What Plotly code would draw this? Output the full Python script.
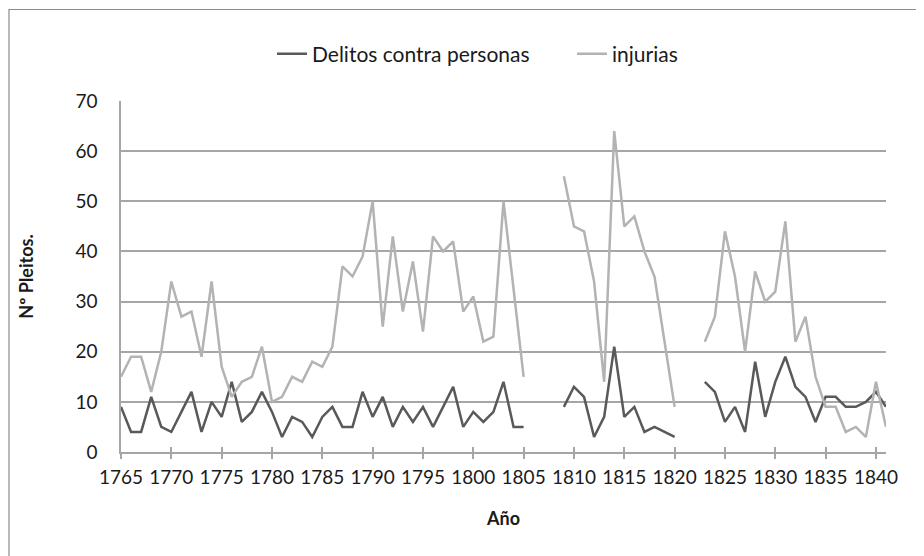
import plotly.graph_objects as go

years = list(range(1765, 1842))

delitos = [9, 4, 4, 11, 5, 4, 8, 12, 4, 10,
           7, 14, 6, 8, 12, 8, 3, 7, 6, 3,
           7, 9, 5, 5, 12, 7, 11, 5, 9, 6,
           9, 5, 9, 13, 5, 8, 6, 8, 14, 5,
           5, None, None, None, 9, 13, 11, 3, 7, 21,
           7, 9, 4, 5, 4, 3, None, None, 14, 12,
           6, 9, 4, 18, 7, 14, 19, 13, 11, 6,
           11, 11, 9, 9, 10, 12, 9]

injurias = [15, 19, 19, 12, 20, 34, 27, 28, 19, 34,
            17, 11, 14, 15, 21, 10, 11, 15, 14, 18,
            17, 21, 37, 35, 39, 50, 25, 43, 28, 38,
            24, 43, 40, 42, 28, 31, 22, 23, 50, 32,
            15, None, None, None, 55, 45, 44, 34, 14, 64,
            45, 47, 40, 35, 22, 9, None, None, 22, 27,
            44, 35, 20, 36, 30, 32, 46, 22, 27, 15,
            9, 9, 4, 5, 3, 14, 5]

x_ticks = list(range(1765, 1841, 5))

FONT = "Lato, 'Open Sans', sans-serif"
GRID = "#a6a6a6"

# page coordinates of the plot area (the html body adds an 8px offset)
BODY = 8
PL, PR, PT, PB = 121, 886, 101, 452
W, H = 924, 556

fig = go.Figure()
fig.add_trace(go.Scatter(x=years, y=delitos, mode="lines", name="Delitos contra personas",
                         line=dict(color="#595959", width=2.5), connectgaps=False))
fig.add_trace(go.Scatter(x=years, y=injurias, mode="lines", name="injurias",
                         line=dict(color="#b3b3b3", width=2.5), connectgaps=False))

pw, ph = PR - PL, PB - PT

fig.update_layout(
    width=W, height=H,
    margin=dict(l=PL - BODY, r=W + BODY - PR, t=PT - BODY, b=H + BODY - PB, autoexpand=False),
    paper_bgcolor="white", plot_bgcolor="white",
    font=dict(family=FONT, size=19, color="#1a1a1a"),
    showlegend=True,
    legend=dict(orientation="h", x=(272 - PL) / pw, xanchor="left",
                y=(PB - 54) / ph, yanchor="middle",
                font=dict(family=FONT, size=21, color="#1a1a1a"),
                itemwidth=30, entrywidth=255, tracegroupgap=0, bgcolor="rgba(0,0,0,0)"),
    xaxis=dict(range=[1765, 1841], tickmode="array", tickvals=x_ticks,
               ticktext=[str(v) for v in x_ticks],
               showgrid=False, zeroline=False,
               showline=True, linecolor=GRID, linewidth=1.5,
               ticks="outside", ticklen=5, tickcolor=GRID, tickwidth=1.5,
               ticklabelstandoff=2, automargin=False,
               title=dict(text="<b>Año</b>", font=dict(family=FONT, size=18, color="#1a1a1a"),
                          standoff=26)),
    xaxis2=dict(range=[1765, 1841], overlaying="x", matches="x", anchor="y",
                tickmode="array", tickvals=x_ticks, showticklabels=False,
                showgrid=False, zeroline=False, showline=False,
                ticks="inside", ticklen=5, tickcolor=GRID, tickwidth=1.5, side="bottom"),
    yaxis=dict(range=[0, 70], dtick=10, tick0=0,
               showgrid=True, gridcolor=GRID, gridwidth=1.5,
               zeroline=False, showline=True, linecolor=GRID, linewidth=1.5,
               ticks="", ticklabelstandoff=18, automargin=False,
               title=dict(text="<b>Nº Pleitos.</b>", font=dict(family=FONT, size=18, color="#1a1a1a"),
                          standoff=37)),
    shapes=[dict(type="rect", xref="paper", yref="paper",
                 x0=(BODY + 1 - PL) / pw, x1=(940 - PL) / pw,
                 y0=(PB - 575) / ph, y1=(PB - 9.5) / ph,
                 line=dict(color="#8c8c8c", width=1.2), layer="below")],
)

# invisible trace on xaxis2 so the overlay axis (upper half of the tick marks) is drawn
fig.add_trace(go.Scatter(x=[1765], y=[None], xaxis="x2", showlegend=False,
                         hoverinfo="skip", mode="lines"))

fig.write_html("out.html")
